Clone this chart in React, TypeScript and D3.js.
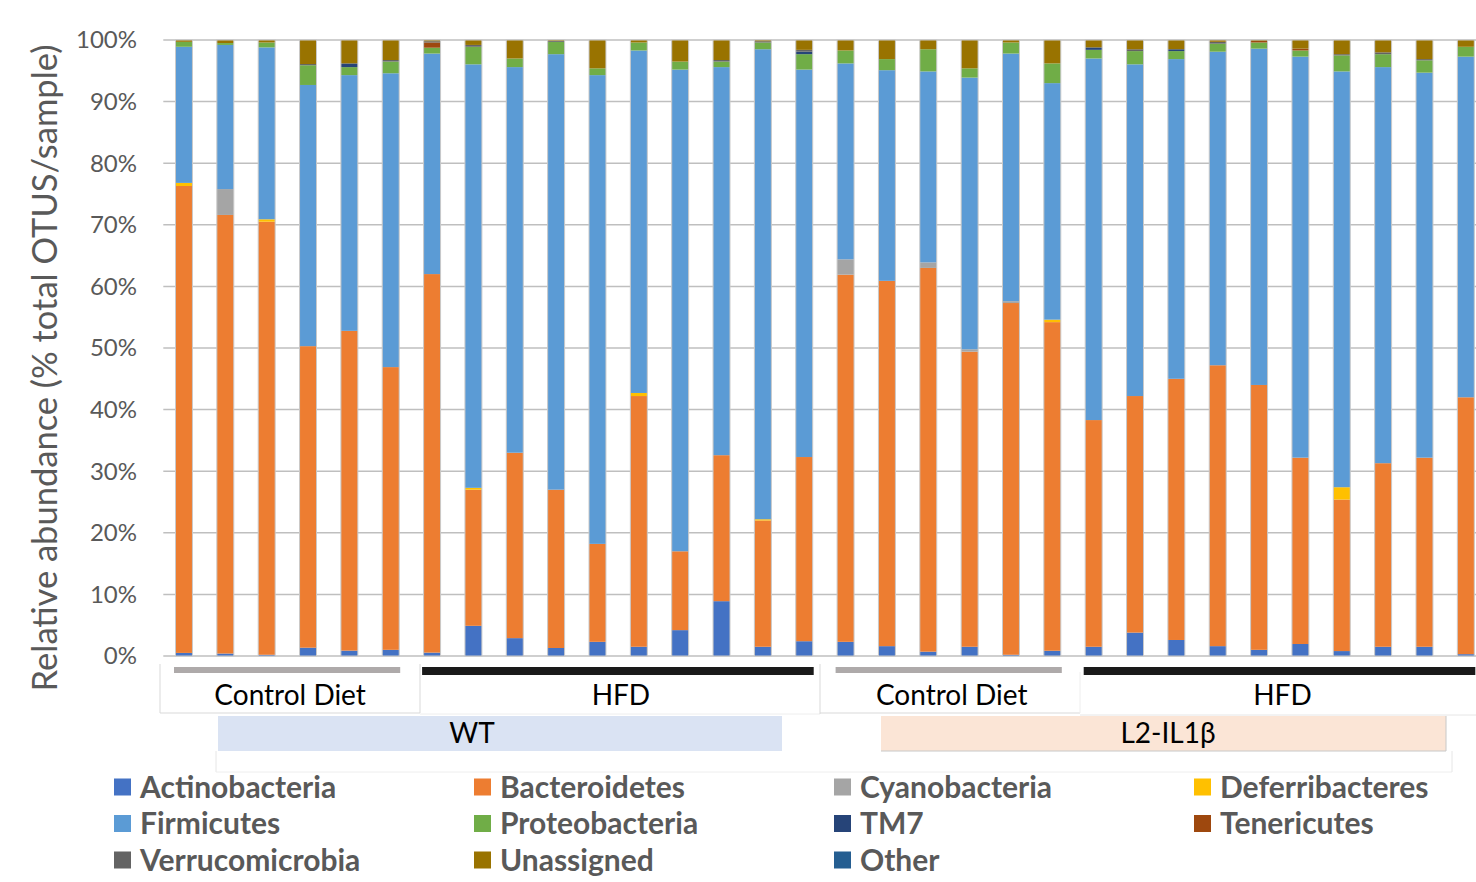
import React from "react";
import * as d3 from "d3";

const samples = ["S1","S2","S3","S4","S5","S6","S7","S8","S9","S10","S11","S12","S13","S14","S15","S16","S17","S18","S19","S20","S21","S22","S23","S24","S25","S26","S27","S28","S29","S30","S31","S32"];

const actinobacteria = [0.5,0.4,0.2,1.35,0.87,1.0,0.55,4.9,2.9,1.3,2.3,1.5,4.2,8.9,1.5,2.4,2.3,1.6,0.7,1.5,0.2,0.85,1.5,3.8,2.6,1.6,1.0,1.95,0.8,1.5,1.5,0.3];
const bacteroidetes = [75.8,71.2,70.3,48.95,51.9,45.9,61.45,22.1,30.1,25.7,15.9,40.7,12.8,23.7,20.5,29.9,59.6,59.3,62.3,47.9,57.1,53.35,36.8,38.4,42.4,45.6,43.0,30.25,24.6,29.8,30.7,41.7];
const cyanobacteria = [0,4.2,0,0,0,0,0,0,0,0,0,0,0,0,0,0,2.5,0,0.9,0.4,0.3,0,0,0,0,0,0,0,0,0,0,0];
const deferribacteres = [0.5,0,0.4,0,0,0,0,0.3,0,0,0,0.5,0,0,0.2,0,0,0,0,0,0,0.4,0,0,0,0,0,0,2.0,0,0,0];
const firmicutes = [22.1,23.4,27.9,42.4,41.5,47.7,35.8,68.75,62.6,70.7,76.1,55.6,78.2,63.0,76.3,62.9,31.8,34.2,31.0,44.1,40.2,38.4,58.7,53.85,51.9,50.9,54.6,65.1,67.5,64.3,62.5,55.3];
const proteobacteria = [0.8,0.3,0.8,3.2,1.3,1.9,0.95,2.85,1.4,2.0,1.1,1.3,1.3,0.9,1.1,2.5,2.1,1.8,3.6,1.5,1.8,3.2,1.4,2.15,1.3,1.3,1.0,1.0,2.6,2.1,2.0,1.6];
const tm7 = [0,0,0,0,0.6,0,0,0,0,0,0,0,0,0,0,0.4,0,0,0,0,0,0,0.4,0,0.3,0,0,0,0,0,0,0];
const tenericutes = [0,0,0,0,0,0,0.85,0,0,0,0,0,0,0,0,0,0,0,0,0,0,0,0,0,0,0,0.25,0.3,0,0,0,0];
const verrucomicrobia = [0,0,0,0.2,0,0.25,0.2,0.3,0,0.15,0,0,0,0.25,0.2,0.3,0,0,0,0,0,0,0,0.3,0,0.3,0,0,0.2,0.3,0.2,0];
const unassigned = [0.3,0.5,0.4,3.9,3.8,3.25,0.2,0.8,3.0,0.15,4.6,0.4,3.5,3.25,0.2,1.6,1.7,3.1,1.5,4.6,0.4,3.8,1.2,1.5,1.5,0.3,0.15,1.4,2.3,2.0,3.1,1.1];
const other = [0,0,0,0,0,0,0,0,0,0,0,0,0,0,0,0,0,0,0,0,0,0,0,0,0,0,0,0,0,0,0,0];

const phyla = ["Actinobacteria","Bacteroidetes","Cyanobacteria","Deferribacteres","Firmicutes","Proteobacteria","TM7","Tenericutes","Verrucomicrobia","Unassigned","Other"];
const phylumValues = [actinobacteria,bacteroidetes,cyanobacteria,deferribacteres,firmicutes,proteobacteria,tm7,tenericutes,verrucomicrobia,unassigned,other];
const colors = ["#4472C4","#ED7D31","#A5A5A5","#FFC000","#5B9BD5","#70AD47","#264478","#9E480E","#636363","#997300","#255E91"];

const yTicks = [0,0.1,0.2,0.3,0.4,0.5,0.6,0.7,0.8,0.9,1.0];

const dietGroups = [
  { label: "Control Diet", from: 0, to: 5, color: "#AEAAAA" },
  { label: "HFD", from: 6, to: 15, color: "#1A1A1A" },
  { label: "Control Diet", from: 16, to: 21, color: "#AEAAAA" },
  { label: "HFD", from: 22, to: 31, color: "#1A1A1A" },
];
const genotypeGroups = [
  { label: "WT", x0: 218, x1: 782, tx: 472, fill: "#DAE3F3" },
  { label: "L2-IL1\u03B2", x0: 881, x1: 1446, tx: 1168, fill: "#FBE5D6" },
];

export default function App() {
  const W = 1476, H = 882;
  const plotLeft = 163.3, plotRight = 1486.5;
  const y0 = 656, y1 = 40;

  const x = d3.scaleBand<string>().domain(samples).range([plotLeft, plotRight]).paddingInner(0.59).paddingOuter(0.295);
  const y = d3.scaleLinear().domain([0, 1]).range([y0, y1]);

  const table = samples.map((s, i) => {
    const row: any = { sample: s };
    phyla.forEach((p, k) => { row[p] = phylumValues[k][i]; });
    return row;
  });
  const stack = d3.stack<any>().keys(phyla).offset(d3.stackOffsetExpand);
  const series = stack(table);

  const bw = x.bandwidth();
  const font = "Lato, 'Open Sans', sans-serif";

  return (
    <svg width={W} height={H} style={{ position: "absolute", left: 0, top: 0, background: "#fff" }} fontFamily={font}>
      {yTicks.map((t) => (
        <line key={"g" + t} x1={plotLeft} x2={W} y1={y(t)} y2={y(t)} stroke="#BFBFBF" strokeWidth={1.5} />
      ))}
      {yTicks.map((t) => (
        <text key={"t" + t} x={137} y={y(t)} dy="0.35em" textAnchor="end" fontSize={24} fill="#595959">
          {d3.format(".0%")(t)}
        </text>
      ))}
      <text transform={`translate(57,368) rotate(-90)`} textAnchor="middle" fontSize={34.5} fill="#595959">
        Relative abundance (% total OTUS/sample)
      </text>

      {series.map((ser, k) => (
        <g key={ser.key} fill={colors[k]}>
          {ser.map((d: any, i: number) => {
            const h = y(d[0]) - y(d[1]);
            if (h <= 0) return null;
            return <rect key={i} x={x(samples[i])} y={y(d[1])} width={bw} height={h} />;
          })}
        </g>
      ))}
      {samples.map((s) => (
        <rect key={"o" + s} x={x(s)} y={y(1)} width={bw} height={y(0) - y(1)} fill="none" stroke="#C9C9C9" strokeWidth={1} />
      ))}

      {dietGroups.map((g, i) => {
        const gx0 = (x(samples[g.from]) as number) - 1.5;
        const gx1 = Math.min((x(samples[g.to]) as number) + bw + 1, W);
        const mid = (gx0 + (x(samples[g.to]) as number) + bw + 1) / 2 + 3;
        return (
          <g key={"dg" + i}>
            <rect x={gx0} y={667} width={gx1 - gx0} height={i % 2 ? 8 : 6} fill={g.color} />
            <text x={mid} y={705} textAnchor="middle" fontSize={28} fill="#000">{g.label}</text>
          </g>
        );
      })}
      <g stroke="#D9D9D9" strokeWidth={1}>
        <line x1={160} x2={160} y1={664} y2={713} />
        <line x1={160} x2={420} y1={713} y2={713} />
        <line x1={420} x2={420} y1={664} y2={713} />
        <line x1={420} x2={820} y1={714} y2={714} stroke="#EEEEEE" />
        <line x1={820} x2={820} y1={664} y2={714} />
        <line x1={820} x2={1080} y1={713} y2={713} />
        <line x1={1080} x2={1080} y1={672} y2={713} stroke="#EEEEEE" />
        <line x1={1080} x2={1476} y1={715} y2={715} stroke="#E6E6E6" />
        <line x1={216} x2={216} y1={751} y2={772} stroke="#E6E6E6" />
        <line x1={216} x2={1452} y1={772} y2={772} stroke="#EEEEEE" />
        <line x1={1452} x2={1452} y1={751} y2={772} stroke="#E6E6E6" />
      </g>
      {genotypeGroups.map((g) => (
        <g key={g.label}>
          <rect x={g.x0} y={716} width={g.x1 - g.x0} height={35} fill={g.fill} />
          <text x={g.tx} y={743} textAnchor="middle" fontSize={28} fill="#000">{g.label}</text>
        </g>
      ))}
      <polyline points="1446,716 1446,751 881,751" fill="none" stroke="#C8C8C8" strokeWidth={1} />

      {phyla.map((p, k) => {
        const col = k % 4, row = Math.floor(k / 4);
        const lx = 114 + col * 360;
        const ly = 787 + row * 36.5;
        return (
          <g key={"l" + p}>
            <rect x={lx} y={ly - 8.5} width={17} height={17} fill={colors[k]} />
            <text x={lx + 26} y={ly} dy="0.36em" fontSize={30} fontWeight="bold" fill="#595959">{p}</text>
          </g>
        );
      })}
    </svg>
  );
}
